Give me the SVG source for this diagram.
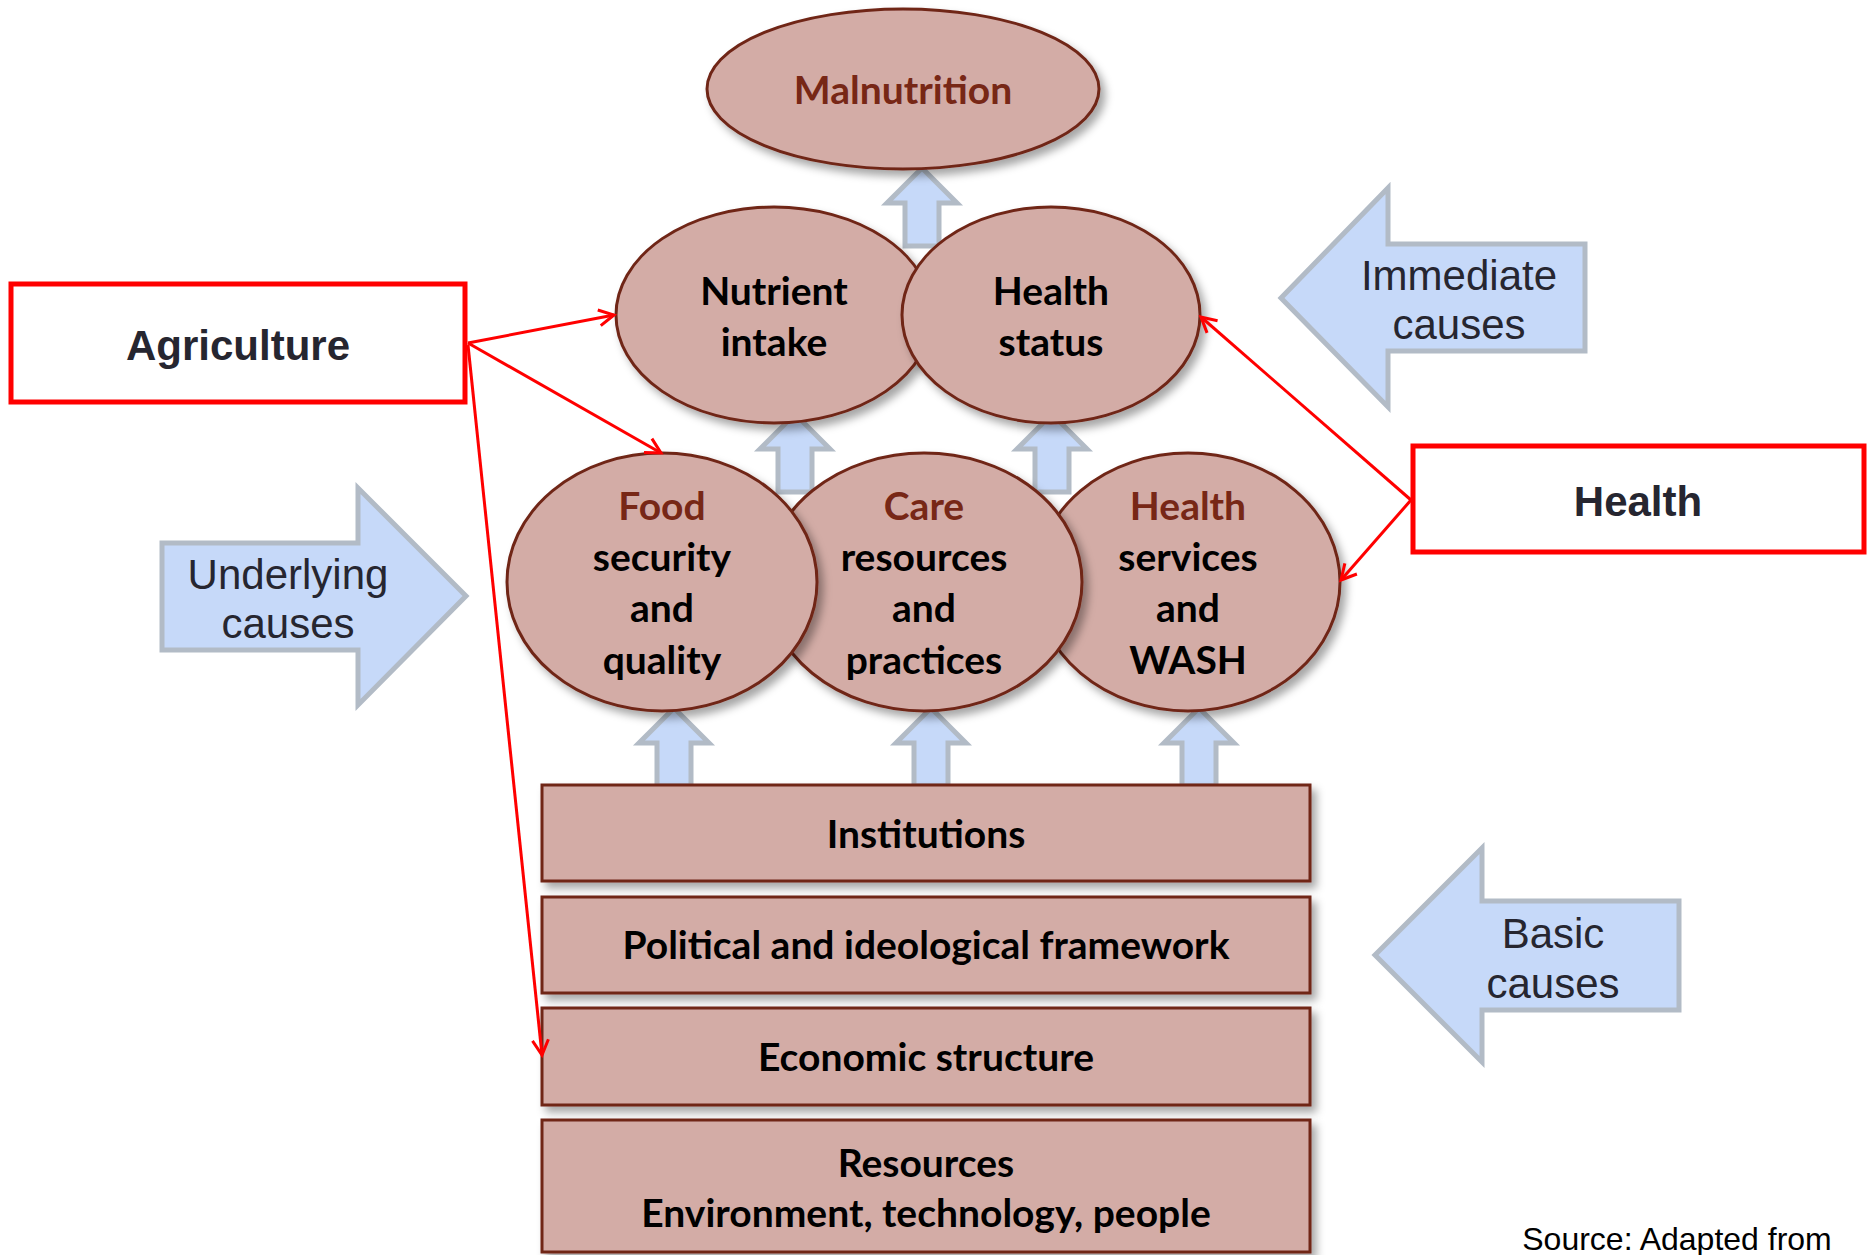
<svg xmlns="http://www.w3.org/2000/svg" width="1867" height="1255" viewBox="0 0 1867 1255">
  <style>
    .node { fill: #d3aca6; stroke: #6f2519; stroke-width: 3; }
    .lbl { font-family: Lato, "Open Sans", sans-serif; font-weight: bold; font-size: 39px; text-anchor: middle; fill: #000; }
    .lbl .hd, .lbl.hd { fill: #772716; }
    .redbox { fill: #fff; stroke: #ff0000; stroke-width: 5; }
    .boxlbl { font-family: "Liberation Sans", Arial, sans-serif; font-weight: bold; font-size: 42px; text-anchor: middle; fill: #262630; }
    .tag { fill: #c6d9f9; stroke: #b2bbc6; stroke-width: 5; }
    .taglbl { font-family: "Liberation Sans", Arial, sans-serif; font-size: 42px; text-anchor: middle; fill: #262630; }
    .up { fill: #c6d9f9; stroke: #b2bbc6; stroke-width: 5; }
    .link { fill: none; stroke: #ff0000; stroke-width: 3; }
    .src { font-family: "Liberation Sans", Arial, sans-serif; font-size: 32px; text-anchor: middle; fill: #000; }
  </style>
  <defs>
    <filter id="shadow" x="-10%" y="-10%" width="125%" height="130%">
      <feDropShadow dx="5" dy="6" stdDeviation="4" flood-color="#000" flood-opacity="0.35"/>
    </filter>
    <marker id="open" viewBox="-17 -10 20 20" refX="0" refY="0" markerWidth="20" markerHeight="20" orient="auto" markerUnits="userSpaceOnUse">
      <path d="M-15,-8 L0,0 L-15,8" fill="none" stroke="#ff0000" stroke-width="3"/>
    </marker>
    <path id="uparrow" d="M0,0 L35,35 L17,35 L17,78 L-17,78 L-17,35 L-35,35 Z"/>
  </defs>

  <rect width="1867" height="1255" fill="#fff"/>

  <!-- side labels: levels of causes -->
  <g id="immediate-causes">
    <polygon class="tag" points="1281,298 1388,188 1388,244 1585,244 1585,351 1388,351 1388,407"/>
    <text class="taglbl" x="1459" y="290">Immediate</text>
    <text class="taglbl" x="1459" y="339">causes</text>
  </g>
  <g id="underlying-causes">
    <polygon class="tag" points="162,543 358,543 358,488 466,596 358,705 358,650 162,650"/>
    <text class="taglbl" x="288" y="589">Underlying</text>
    <text class="taglbl" x="288" y="638">causes</text>
  </g>
  <g id="basic-causes">
    <polygon class="tag" points="1375,955 1482,848 1482,901 1679,901 1679,1010 1482,1010 1482,1062"/>
    <text class="taglbl" x="1553" y="948">Basic</text>
    <text class="taglbl" x="1553" y="998">causes</text>
  </g>

  <!-- block arrows between levels -->
  <g id="flow-arrows">
    <use href="#uparrow" class="up" x="922" y="168"/>
    <use href="#uparrow" class="up" x="795" y="414"/>
    <use href="#uparrow" class="up" x="1052" y="414"/>
    <use href="#uparrow" class="up" x="674" y="708"/>
    <use href="#uparrow" class="up" x="931" y="708"/>
    <use href="#uparrow" class="up" x="1199" y="708"/>
  </g>

  <g id="malnutrition">
    <ellipse class="node" filter="url(#shadow)" cx="903" cy="89" rx="196" ry="80"/>
    <text class="lbl hd" x="903" y="104">Malnutrition</text>
  </g>

  <g id="nutrient-intake">
    <ellipse class="node" filter="url(#shadow)" cx="774" cy="315" rx="158" ry="108"/>
    <text class="lbl" x="774" y="305">Nutrient</text>
    <text class="lbl" x="774" y="356">intake</text>
  </g>
  <g id="health-status">
    <ellipse class="node" filter="url(#shadow)" cx="1051" cy="315" rx="149" ry="108"/>
    <text class="lbl" x="1051" y="305">Health</text>
    <text class="lbl" x="1051" y="356">status</text>
  </g>

  <g id="health-services">
    <ellipse class="node" filter="url(#shadow)" cx="1188" cy="582" rx="152" ry="129"/>
    <text class="lbl hd" x="1188" y="520">Health</text>
    <text class="lbl" x="1188" y="571">services</text>
    <text class="lbl" x="1188" y="622">and</text>
    <text class="lbl" x="1188" y="674">WASH</text>
  </g>
  <g id="care">
    <ellipse class="node" filter="url(#shadow)" cx="924" cy="582" rx="158" ry="129"/>
    <text class="lbl hd" x="924" y="520">Care</text>
    <text class="lbl" x="924" y="571">resources</text>
    <text class="lbl" x="924" y="622">and</text>
    <text class="lbl" x="924" y="674">practices</text>
  </g>
  <g id="food-security">
    <ellipse class="node" filter="url(#shadow)" cx="662" cy="582" rx="155" ry="129"/>
    <text class="lbl hd" x="662" y="520">Food</text>
    <text class="lbl" x="662" y="571">security</text>
    <text class="lbl" x="662" y="622">and</text>
    <text class="lbl" x="662" y="674">quality</text>
  </g>

  <g id="institutions">
    <rect class="node" filter="url(#shadow)" x="542" y="785" width="768" height="96"/>
    <text class="lbl" x="926" y="848">Institutions</text>
  </g>
  <g id="political-framework">
    <rect class="node" filter="url(#shadow)" x="542" y="897" width="768" height="96"/>
    <text class="lbl" x="926" y="959">Political and ideological framework</text>
  </g>
  <g id="economic-structure">
    <rect class="node" filter="url(#shadow)" x="542" y="1008" width="768" height="97"/>
    <text class="lbl" x="926" y="1071">Economic structure</text>
  </g>
  <g id="resources">
    <rect class="node" filter="url(#shadow)" x="542" y="1120" width="768" height="132"/>
    <text class="lbl" x="926" y="1177">Resources</text>
    <text class="lbl" x="926" y="1227">Environment, technology, people</text>
  </g>

  <g id="agriculture">
    <rect class="redbox" x="11" y="284" width="454" height="118"/>
    <text class="boxlbl" x="238" y="360">Agriculture</text>
  </g>
  <g id="health">
    <rect class="redbox" x="1413" y="446" width="451" height="106"/>
    <text class="boxlbl" x="1638" y="516">Health</text>
  </g>

  <!-- sector links -->
  <g id="connectors">
    <line class="link" x1="468" y1="343" x2="614" y2="315" marker-end="url(#open)"/>
    <line class="link" x1="468" y1="343" x2="661" y2="453" marker-end="url(#open)"/>
    <line class="link" x1="468" y1="345" x2="542" y2="1055" marker-end="url(#open)"/>
    <line class="link" x1="1411" y1="500" x2="1201" y2="317" marker-end="url(#open)"/>
    <line class="link" x1="1411" y1="500" x2="1341" y2="580" marker-end="url(#open)"/>
  </g>

  <text class="src" x="1677" y="1250">Source: Adapted from</text>
</svg>
